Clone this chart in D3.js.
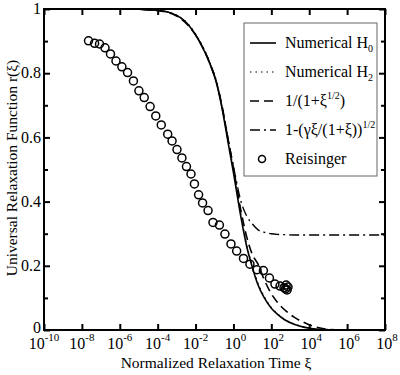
<!DOCTYPE html>
<html>
<head>
<meta charset="utf-8">
<script src="https://cdn.jsdelivr.net/npm/d3@7"></script>
<style>
  body { margin: 0; background: #fff; }
  svg text { font-family: "Liberation Serif", "DejaVu Serif", "Times New Roman", serif; }
</style>
</head>
<body>
<div id="chart"></div>
<script>
// x values are log10(xi) exponents
const curveExp = [-10, -6, -5, -4, -3, -2.3, -1.8, -1.25, -0.9, -0.6, -0.3, 0, 0.4, 0.7, 1.0, 1.3, 1.6, 2.0, 2.3, 2.7, 3.2, 3.7, 4.2, 5, 6, 8];
const numericalH0 = [1, 1, 0.999, 0.996, 0.98, 0.945, 0.9, 0.83, 0.77, 0.69, 0.59, 0.49, 0.35, 0.26, 0.195, 0.14, 0.103, 0.068, 0.05, 0.032, 0.018, 0.009, 0.004, 0.001, 0, 0];
const numericalH2 = [1, 1, 0.999, 0.996, 0.981, 0.947, 0.903, 0.835, 0.776, 0.697, 0.6, 0.5, 0.36, 0.266, 0.2, 0.145, 0.107, 0.07, 0.052, 0.033, 0.019, 0.01, 0.004, 0.001, 0, 0];
const sqrtModel = [1, 1, 0.999, 0.995, 0.978, 0.943, 0.9, 0.832, 0.773, 0.697, 0.6, 0.505, 0.37, 0.29, 0.235, 0.205, 0.16, 0.113, 0.088, 0.063, 0.04, 0.024, 0.012, 0.002, 0, 0];
const gammaModel = [1, 1, 0.999, 0.996, 0.98, 0.945, 0.9, 0.832, 0.773, 0.695, 0.6, 0.51, 0.40, 0.355, 0.33, 0.312, 0.305, 0.3, 0.298, 0.297, 0.296, 0.296, 0.296, 0.296, 0.296, 0.296];

const reisingerExp = [-7.65, -7.33, -7.07, -6.78, -6.49, -6.20, -5.89, -5.59, -5.28, -4.99, -4.71, -4.40, -4.10, -3.81, -3.47, -3.24, -2.98, -2.72, -2.48, -2.24, -2.06, -1.84, -1.63, -1.34, -1.08, -0.74, -0.45, -0.13, 0.17, 0.53, 0.87, 1.24, 1.58, 1.90, 2.19, 2.46, 2.67, 2.83, 2.78, 2.88, 2.75];
const reisingerR = [0.901, 0.893, 0.891, 0.879, 0.860, 0.838, 0.820, 0.802, 0.776, 0.745, 0.724, 0.696, 0.667, 0.639, 0.610, 0.589, 0.562, 0.536, 0.509, 0.486, 0.455, 0.421, 0.396, 0.372, 0.335, 0.327, 0.299, 0.268, 0.246, 0.223, 0.205, 0.188, 0.185, 0.162, 0.143, 0.137, 0.132, 0.125, 0.140, 0.134, 0.128];

const xTickExp = [-10, -8, -6, -4, -2, 0, 2, 4, 6, 8];
const yMajor = [0, 0.2, 0.4, 0.6, 0.8, 1];
const yMinor = [0.1, 0.3, 0.5, 0.7, 0.9];
const yLabels = ["0", "0.2", "0.4", "0.6", "0.8", "1"];

const series = [
  {name: "Numerical H", sub: "0", values: numericalH0, dash: null, w: 1.6},
  {name: "Numerical H", sub: "2", values: numericalH2, dash: "1.5,4", w: 1.2},
  {name: "1/(1+ξ", sup: "1/2", tail: ")", values: sqrtModel, dash: "9,5", w: 1.6},
  {name: "1-(γξ/(1+ξ))", sup: "1/2", values: gammaModel, dash: "10,4,2,4", w: 1.4}
];

const W = 400, H = 375;
const mLeft = 44, mRight = 385, mTop = 9, mBottom = 330;
const serif = '"Liberation Serif", "DejaVu Serif", serif';

const svg = d3.select('#chart').append('svg')
  .attr('width', W).attr('height', H)
  .attr('font-family', serif);

const x = d3.scaleLog().domain([1e-10, 1e8]).range([mLeft, mRight]);
const y = d3.scaleLinear().domain([0, 1]).range([mBottom, mTop]);

// frame
svg.append('rect')
  .attr('x', mLeft).attr('y', mTop)
  .attr('width', mRight - mLeft).attr('height', mBottom - mTop)
  .attr('fill', 'none').attr('stroke', '#000').attr('stroke-width', 2);

const xTicks = xTickExp.map(e => Math.pow(10, e));

// x ticks, bottom & top, pointing in
svg.append('g').attr('transform', `translate(0,${mBottom})`)
  .call(d3.axisBottom(x).tickValues(xTicks).tickSizeInner(-6).tickSizeOuter(0).tickFormat(''))
  .call(g => g.select('.domain').remove())
  .selectAll('line').attr('stroke-width', 2);
svg.append('g').attr('transform', `translate(0,${mTop})`)
  .call(d3.axisTop(x).tickValues(xTicks).tickSizeInner(-6).tickSizeOuter(0).tickFormat(''))
  .call(g => g.select('.domain').remove())
  .selectAll('line').attr('stroke-width', 2);

// y ticks
function yTicks(axisFn, xpos, vals, size){
  svg.append('g').attr('transform', `translate(${xpos},0)`)
    .call(axisFn(y).tickValues(vals).tickSizeInner(-size).tickSizeOuter(0).tickFormat(''))
    .call(g => g.select('.domain').remove())
    .selectAll('line').attr('stroke-width', 2);
}
yTicks(d3.axisLeft, mLeft, yMajor, 6);
yTicks(d3.axisLeft, mLeft, yMinor, 4);
yTicks(d3.axisRight, mRight, yMajor, 6);
yTicks(d3.axisRight, mRight, yMinor, 4);

// x tick labels: 10^e
const xl = svg.append('g').attr('font-size', 16).attr('font-family', serif);
xTickExp.forEach(e => {
  const t = xl.append('text')
    .attr('x', x(Math.pow(10, e)) + (e < 0 ? 0 : 2))
    .attr('y', 349)
    .attr('text-anchor', 'middle');
  t.append('tspan').text('10');
  t.append('tspan').attr('font-size', 11).attr('dy', -8).text(e);
});

// y tick labels
svg.append('g').attr('font-size', 16).attr('font-family', serif)
  .selectAll('text').data(yMajor).join('text')
  .attr('x', mLeft - 3)
  .attr('y', d => y(d) - (d === 0 ? 2 : 0))
  .attr('dy', '0.33em')
  .attr('text-anchor', 'end')
  .text((d, i) => yLabels[i]);

// axis titles
svg.append('text')
  .attr('x', 216).attr('y', 368)
  .attr('text-anchor', 'middle')
  .attr('font-size', 15.5)
  .attr('font-family', serif)
  .text('Normalized Relaxation Time  ξ');
svg.append('text')
  .attr('transform', 'translate(17,168) rotate(-90)')
  .attr('text-anchor', 'middle')
  .attr('font-size', 15.5)
  .attr('font-family', serif)
  .text('Universal Relaxation Function  r(ξ)');

// curves
const line = d3.line()
  .x((d, i) => x(Math.pow(10, curveExp[i])))
  .y(d => y(d))
  .curve(d3.curveMonotoneX);

const plot = svg.append('g');
series.forEach(s => {
  plot.append('path')
    .attr('d', line(s.values))
    .attr('fill', 'none')
    .attr('stroke', '#000')
    .attr('stroke-width', s.w)
    .attr('stroke-dasharray', s.dash);
});

// Reisinger circles
plot.selectAll('circle.reis')
  .data(reisingerExp)
  .join('circle')
  .attr('class', 'reis')
  .attr('cx', d => x(Math.pow(10, d)))
  .attr('cy', (d, i) => y(reisingerR[i]))
  .attr('r', 4)
  .attr('fill', 'none')
  .attr('stroke', '#000')
  .attr('stroke-width', 1.5);

// legend
const lg = svg.append('g').attr('font-family', serif);
lg.append('rect')
  .attr('x', 244).attr('y', 23).attr('width', 133).attr('height', 153)
  .attr('fill', '#fff').attr('stroke', '#666').attr('stroke-width', 1);

const rowY = [43, 72, 101, 130, 159];
series.forEach((s, i) => {
  lg.append('line')
    .attr('x1', 250).attr('x2', 276)
    .attr('y1', rowY[i]).attr('y2', rowY[i])
    .attr('stroke', '#000').attr('stroke-width', s.w)
    .attr('stroke-dasharray', s.dash);
  const t = lg.append('text')
    .attr('x', 285).attr('y', rowY[i]).attr('dy', '0.33em')
    .attr('font-size', 16);
  t.append('tspan').text(s.name);
  if (s.sub) t.append('tspan').attr('font-size', 10).attr('dy', 4).text(s.sub);
  if (s.sup) t.append('tspan').attr('font-size', 10).attr('dy', -7).text(s.sup);
  if (s.tail) t.append('tspan').attr('dy', 7).text(s.tail);
});
lg.append('circle')
  .attr('cx', 262).attr('cy', rowY[4]).attr('r', 3.5)
  .attr('fill', 'none').attr('stroke', '#000').attr('stroke-width', 1.5);
lg.append('text')
  .attr('x', 285).attr('y', rowY[4]).attr('dy', '0.33em')
  .attr('font-size', 16).text('Reisinger');
</script>
</body>
</html>
